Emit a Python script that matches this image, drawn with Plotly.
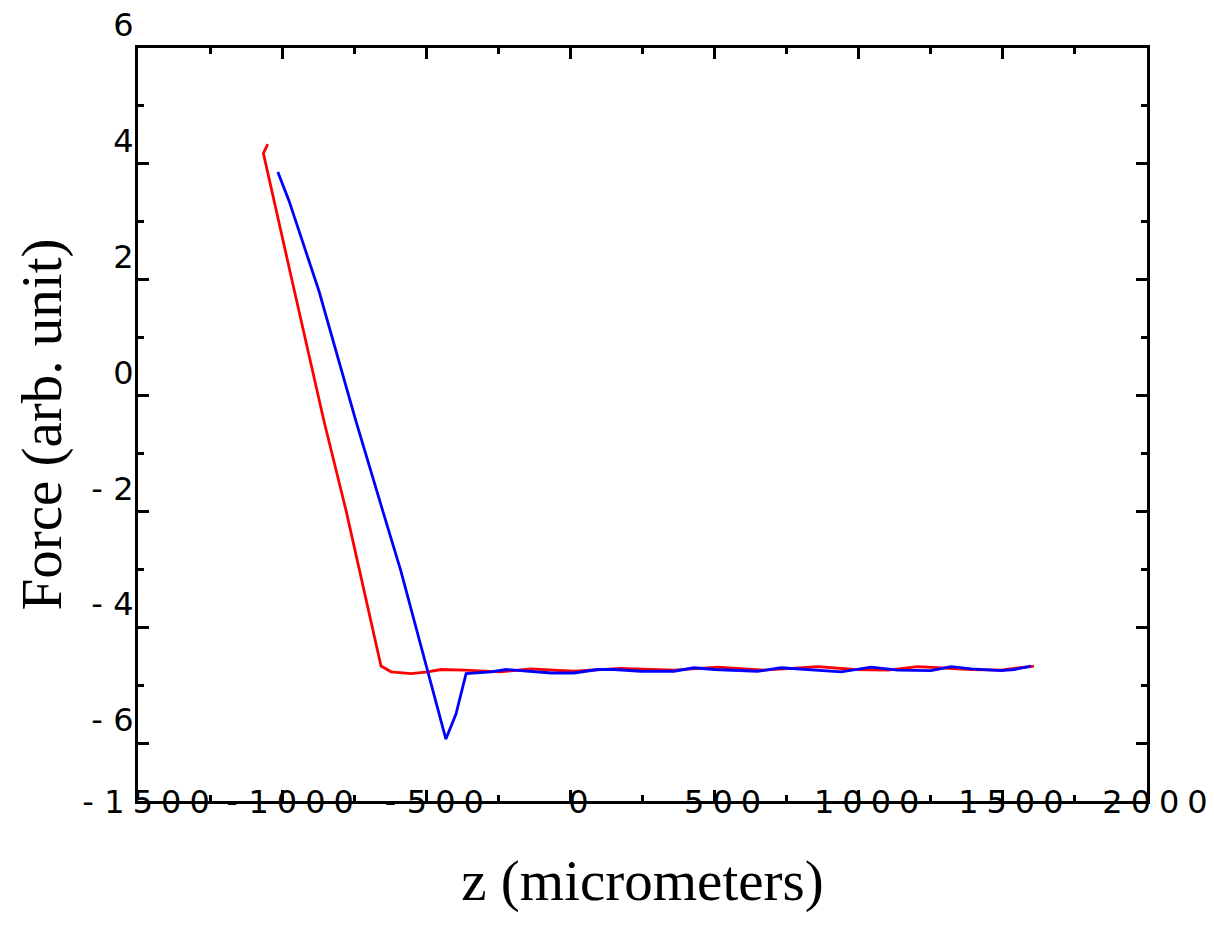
import plotly.graph_objects as go

# ---- data ----
red_z = [-1050, -1065, -969, -855, -778, -657, -622, -553, -495, -449, -369, -241, -137,
         12, 175, 359, 511, 672, 858, 984, 1101, 1205, 1390, 1494, 1608]
red_f = [4.34, 4.18, 2.06, -0.44, -1.99, -4.67, -4.77, -4.80, -4.77, -4.73, -4.74, -4.77, -4.72,
         -4.76, -4.71, -4.74, -4.69, -4.74, -4.68, -4.73, -4.74, -4.68, -4.73, -4.74, -4.67]

blue_z = [-1015, -976, -872, -744, -651, -588, -432, -397, -362, -275, -223, -148, -67, 12,
          95, 151, 245, 359, 429, 498, 650, 731, 789, 904, 939, 1043, 1135, 1251, 1320,
          1390, 1494, 1539, 1598]
blue_f = [3.86, 3.36, 1.80, -0.44, -1.99, -3.03, -5.93, -5.50, -4.80, -4.77, -4.73, -4.76, -4.79, -4.79,
          -4.73, -4.73, -4.76, -4.76, -4.70, -4.73, -4.76, -4.70, -4.72, -4.76, -4.77, -4.69, -4.74, -4.75, -4.68,
          -4.72, -4.75, -4.73, -4.67]

x_tick_vals = [-1500, -1000, -500, 0, 500, 1000, 1500, 2000]
x_tick_text = ["- 1 5 0 0", "- 1 0 0 0", "- 5 0 0", "0", "5 0 0", "1 0 0 0", "1 5 0 0", "2 0 0 0"]
x_minor_vals = [-1250, -750, -250, 250, 750, 1250, 1750]

y_tick_vals = [-6, -4, -2, 0, 2, 4, 6]
y_tick_text = ["- 6", "- 4", "- 2", "0", "2", "4", "6"]
y_minor_vals = [-7, -5, -3, -1, 1, 3, 5]

x_title = "z (micrometers)"
y_title = "Force (arb. unit)"


def spaced(s):
    return s.replace("- ", "-\u2004").replace(" ", "\u2005")


fig = go.Figure()
fig.add_trace(go.Scatter(x=red_z, y=red_f, mode="lines", line=dict(color="#ff0000", width=2.8),
                         showlegend=False))
fig.add_trace(go.Scatter(x=blue_z, y=blue_f, mode="lines", line=dict(color="#0000ff", width=2.8),
                         showlegend=False))

tick_font = dict(family="DejaVu Sans, Arial, sans-serif", size=32, color="black")
title_font = dict(family="Liberation Serif, Times New Roman, serif", size=57, color="black")

fig.update_xaxes(
    range=[-1500, 2000], tickmode="array", tickvals=x_tick_vals,
    ticktext=[spaced(t) for t in x_tick_text],
    ticks="inside", ticklen=11, tickwidth=3, tickcolor="black",
    showline=True, linewidth=3, linecolor="black", mirror="ticks",
    minor=dict(ticks="inside", ticklen=6, tickwidth=3, tickcolor="black", tickvals=x_minor_vals),
    showgrid=False, zeroline=False, tickfont=tick_font,
    ticklabelstandoff=-29, ticklabelshift=8, automargin=False, ticklabeloverflow="allow",
    title=dict(text=x_title, font=title_font, standoff=40),
)
fig.update_yaxes(
    range=[-7, 6], tickmode="array", tickvals=y_tick_vals,
    ticktext=[spaced(t) for t in y_tick_text],
    ticks="inside", ticklen=11, tickwidth=3, tickcolor="black",
    showline=True, linewidth=3, linecolor="black", mirror="ticks",
    minor=dict(ticks="inside", ticklen=6, tickwidth=3, tickcolor="black", tickvals=y_minor_vals),
    showgrid=False, zeroline=False, tickfont=tick_font,
    ticklabelstandoff=-5, ticklabelshift=-23, automargin=False, ticklabeloverflow="allow",
    title=dict(text=y_title, font=title_font, standoff=12),
)

fig.update_layout(
    width=1214, height=926,
    margin=dict(l=138, r=67, t=48, b=125),
    paper_bgcolor="white", plot_bgcolor="white",
)

fig.write_html(
    "out.html",
    config={"displayModeBar": False},
    post_script="document.body.style.margin='0';document.body.style.padding='0';",
)
